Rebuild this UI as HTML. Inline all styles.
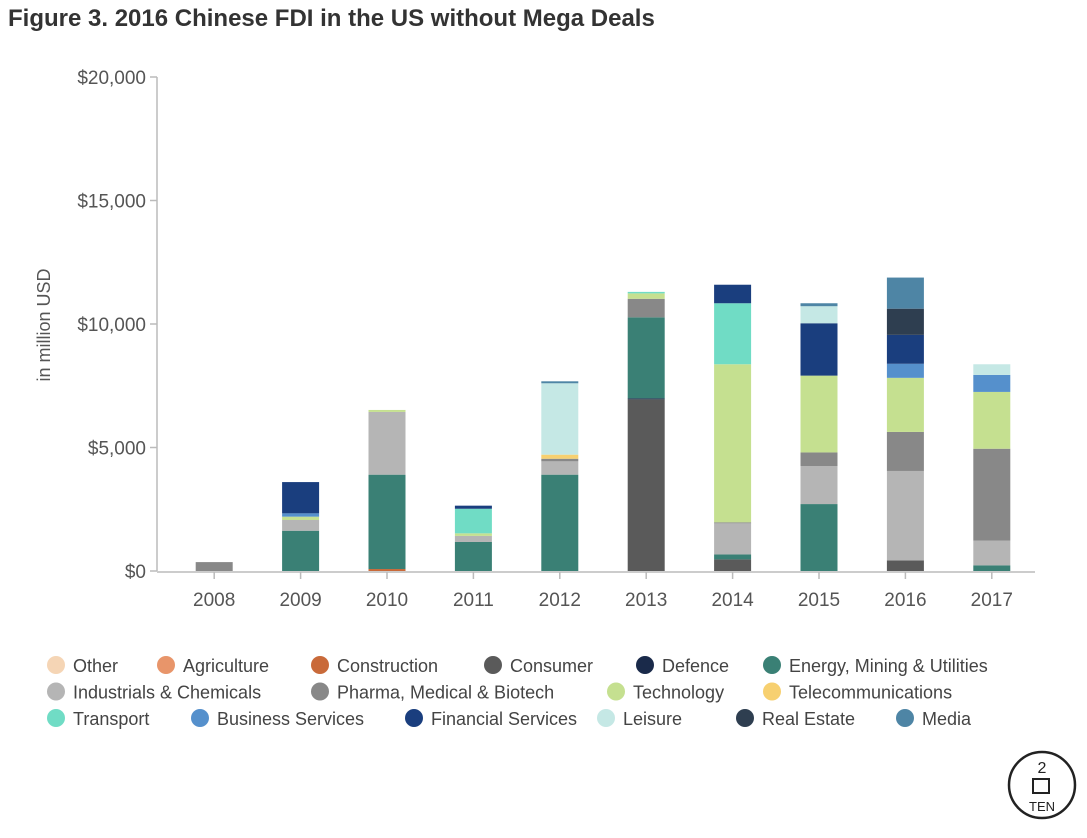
<!DOCTYPE html>
<html><head><meta charset="utf-8"><style>
body{margin:0;background:#fff;font-family:"Liberation Sans",sans-serif;}
svg text{font-family:"Liberation Sans",sans-serif;}
</style></head><body>
<svg id="chart" width="1087" height="833" xmlns="http://www.w3.org/2000/svg">
<text x="8" y="26" font-size="24" font-weight="bold" fill="#333">Figure 3. 2016 Chinese FDI in the US without Mega Deals</text>
<text transform="translate(50,325) rotate(-90)" text-anchor="middle" font-size="18" fill="#555">in million USD</text>
<g id="axes"></g><g id="bars"></g><g id="legend"></g>
<g transform="translate(1042,785)">
<circle r="33" fill="none" stroke="#222" stroke-width="2.5"/>
<text x="0" y="-12" font-size="16" text-anchor="middle" fill="#222">2</text>
<rect x="-9" y="-6" width="16" height="14" fill="none" stroke="#222" stroke-width="2"/>
<text x="0" y="26" font-size="13" text-anchor="middle" fill="#222">TEN</text>
</g>
</svg>
<script>
const years=["2008","2009","2010","2011","2012","2013","2014","2015","2016","2017"];
const seriesNames=["Other","Agriculture","Construction","Consumer","Defence","Energy, Mining & Utilities","Industrials & Chemicals","Pharma, Medical & Biotech","Technology","Telecommunications","Transport","Business Services","Financial Services","Leisure","Real Estate","Media"];
const colors=["#f5d5b5","#e8956a","#c96a3a","#5a5a5a","#1a2a4a","#3a8075","#b5b5b5","#888888","#c5e090","#f7d070","#70dcc5","#5590cc","#1a3e7e","#c5e8e5","#2e3e50","#4e85a5"];
const other=[0,0,0,0,0,0,0,0,0,0];
const agriculture=[0,0,0,0,0,0,0,0,0,0];
const construction=[0,0,80,0,0,0,0,0,0,0];
const consumer=[0,0,0,0,0,6950,470,0,430,0];
const defence=[0,0,0,0,0,40,0,0,0,0];
const energy=[0,1630,3820,1175,3900,3280,200,2710,0,230];
const industrials=[0,435,2540,245,540,0,1260,1540,3620,1000];
const pharma=[360,0,0,0,105,750,40,550,1580,3720];
const technology=[0,135,80,105,0,220,6400,3110,2190,2300];
const telecom=[0,0,0,0,165,0,0,0,0,0];
const transport=[0,0,0,995,0,60,2470,0,0,0];
const business=[0,135,0,0,0,0,0,0,570,690];
const financial=[0,1265,0,125,0,0,750,2120,1170,0];
const leisure=[0,0,0,0,2890,0,0,690,0,430];
const realEstate=[0,0,0,0,0,0,0,0,1060,0];
const media=[0,0,0,0,80,0,0,120,1260,0];
const yTicks=[0,5000,10000,15000,20000];
const yTickLabels=["$0","$5,000","$10,000","$15,000","$20,000"];
const series=[other,agriculture,construction,consumer,defence,energy,industrials,pharma,technology,telecom,transport,business,financial,leisure,realEstate,media];
const NS="http://www.w3.org/2000/svg";
const x0=171,x1=1035,y0=571,y1=77,yMax=20000;
const band=(x1-x0)/years.length, bw=37;
const y=v=>y0-(v/yMax)*(y0-y1);
const xc=i=>x0+band*(i+0.5);
function mk(tag,attrs,parent){const e=document.createElementNS(NS,tag);for(const k in attrs)e.setAttribute(k,attrs[k]);parent.appendChild(e);return e;}
const axes=document.getElementById('axes');
let l=mk('line',{x1:157,x2:157,y1:y1,y2:y0,stroke:'#bbb','stroke-width':1.5},axes);


yTicks.forEach((t,i)=>{
 const tk=mk('line',{x1:150,x2:157,y1:y(t),y2:y(t),stroke:'#bbb','stroke-width':1.5},axes);
 
 
 const tx=mk('text',{x:146,y:y(t)+7,'text-anchor':'end','font-size':19,fill:'#555'},axes);
 tx.textContent=yTickLabels[i];
 
 
});
l=mk('line',{x1:157,x2:x1,y1:y0+1,y2:y0+1,stroke:'#bbb','stroke-width':1.5},axes);


years.forEach((yr,i)=>{
 const tk=mk('line',{x1:xc(i),x2:xc(i),y1:y0+1,y2:y0+8,stroke:'#bbb','stroke-width':1.5},axes);
 
 
 const tx=mk('text',{x:xc(i),y:606,'text-anchor':'middle','font-size':19,fill:'#555'},axes);
 tx.textContent=yr;
 
 
});
const bars=document.getElementById('bars');
years.forEach((yr,i)=>{
 let cum=0;
 series.forEach((s,j)=>{
  const v=s[i]; if(!v)return;
  const r=mk('rect',{x:xc(i)-bw/2,y:y(cum+v),width:bw,height:y(cum)-y(cum+v),fill:colors[j]},bars);
  
  
  cum+=v;
 });
});
const legend=document.getElementById('legend');
const legX=[56,166,320,493,645,772, 56,320,616,772, 56,200,414,606,745,905];
const legRow=[0,0,0,0,0,0, 1,1,1,1, 2,2,2,2,2,2];
seriesNames.forEach((n,k)=>{
 const cx=legX[k],cy=665+legRow[k]*26.5;
 const g=mk('g',{},legend);
 
 
 mk('circle',{cx:cx,cy:cy,r:9,fill:colors[k]},g);
 const t=mk('text',{x:cx+17,y:cy+7,'font-size':18,fill:'#444'},g);
 t.textContent=n;
});
</script>
</body></html>
